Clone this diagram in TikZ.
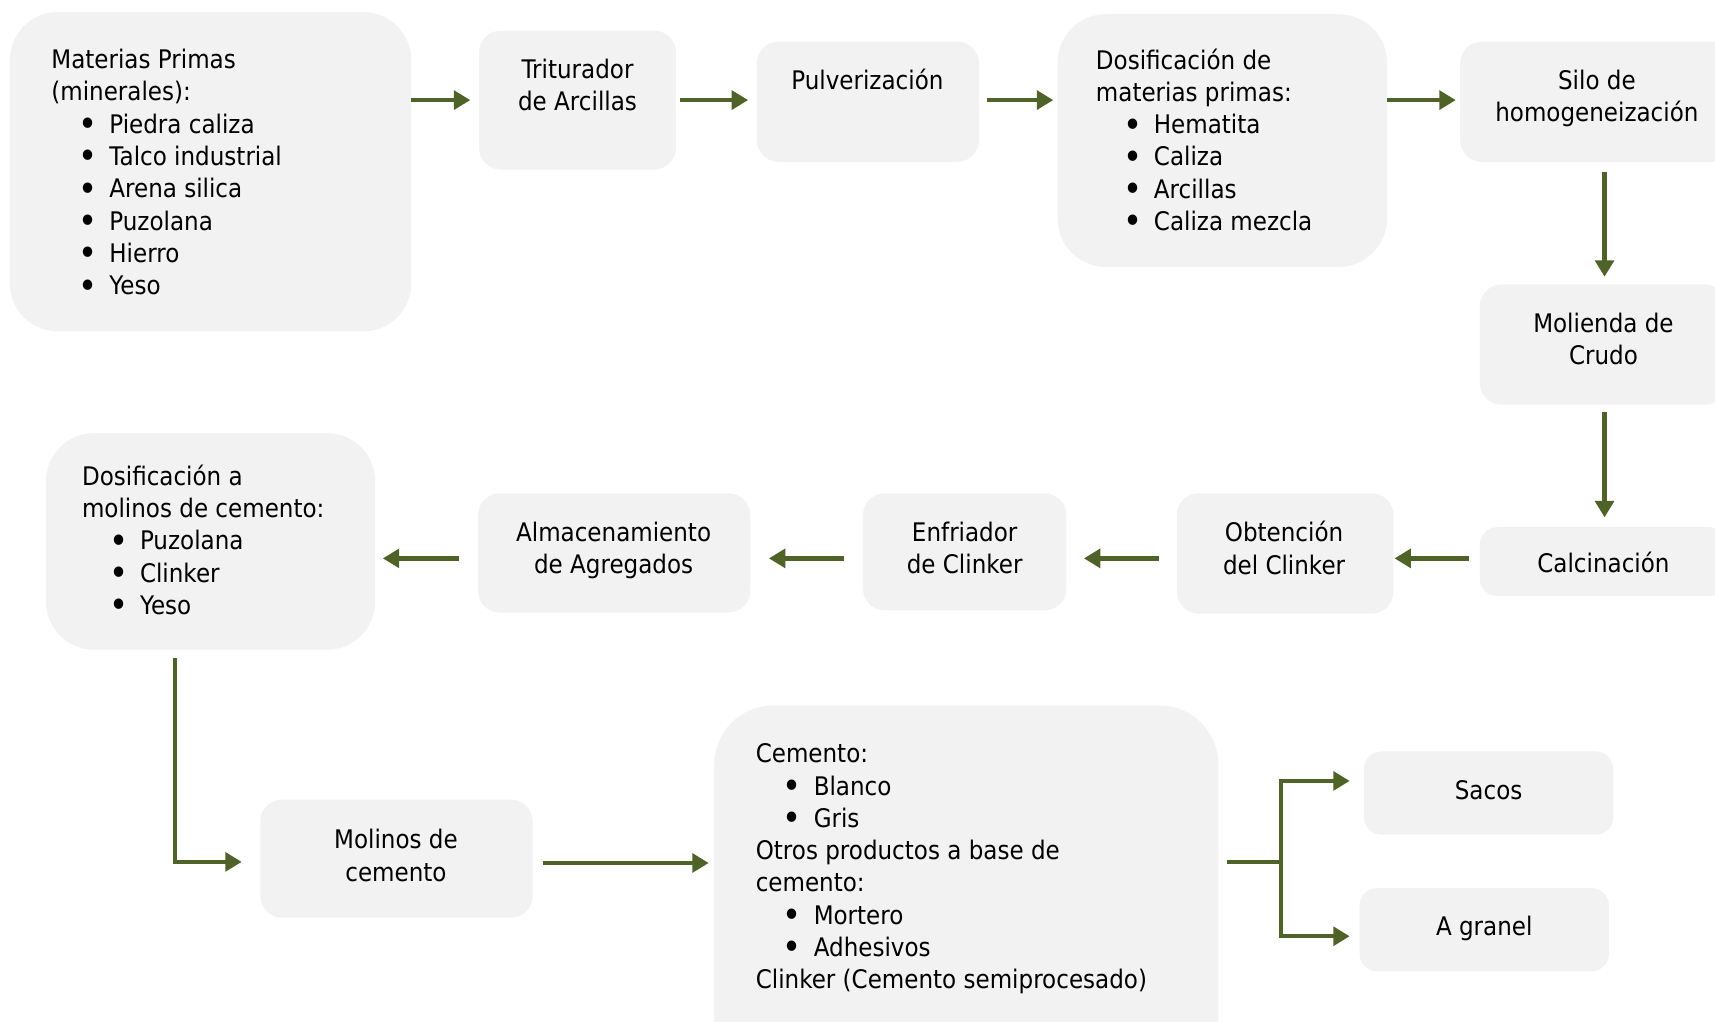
\documentclass[tikz,border=0pt]{standalone}
\usepackage{fontspec}
\usepackage{graphicx}
\setmainfont{DejaVu Sans}[FakeStretch=0.9]
\usetikzlibrary{arrows.meta,calc}
\definecolor{boxgray}{HTML}{F2F2F2}
\definecolor{arrgreen}{HTML}{4F6228}
\newcommand\bul[1]{\makebox[26.5pt][l]{\hspace*{12.4pt}\smash{\raisebox{-0.25ex}{\scalebox{1.4}{•}}}}#1}
\newcommand\bx[6]{\node[box, rounded corners=#6, minimum width={(#4-#2)*0.5pt}, minimum height={(#5-#3)*0.5pt}] (#1) at ({(#2+#4)/2},{(#3+#5)/2}) {};}
\tikzset{
  box/.style={draw=none, fill=boxgray, inner sep=0pt, outer sep=0pt, rectangle},
  txt/.style={inner sep=0pt, outer sep=0pt, font=\fontsize{11.7}{14.75}\selectfont, text=black},
  ltxt/.style={txt, align=left, anchor=north west},
  ctxt/.style={txt, align=center, anchor=center},
  arr/.style={draw=arrgreen, line width=2pt, -{Triangle[length=7.5pt, width=8.5pt]}},
  ln/.style={draw=arrgreen, line width=2pt}
}
\begin{document}
\begin{tikzpicture}[x=0.5pt, y=-0.5pt]
\clip (0,0) rectangle (1568,934);
\fill[white] (0,0) rectangle (1568,934);
% boxes
\bx{mp}{9}{11}{376}{303}{22pt}
\bx{tri}{438}{28}{618}{155}{10pt}
\bx{pul}{692}{38}{895}{148}{10pt}
\bx{dmp}{967}{13}{1268}{244}{22pt}
\bx{silo}{1335}{38}{1585}{148}{10pt}
\bx{mol}{1353}{260}{1579}{370}{10pt}
\bx{cal}{1353}{482}{1579}{545}{8pt}
\bx{obt}{1076}{451}{1274}{561}{10pt}
\bx{enf}{789}{451}{975}{558}{10pt}
\bx{alm}{437}{451}{686}{560}{10pt}
\bx{dmc}{42}{396}{343}{594}{22pt}
\bx{mcem}{238}{731}{487}{839}{10pt}
\bx{cem}{653}{645}{1114}{990}{27pt}
\bx{sac}{1247}{687}{1475}{763}{8pt}
\bx{gra}{1243}{812}{1471}{888}{8pt}
% texts
\node[ltxt] (mp-t) at (47,45) {Materias Primas\\(minerales):\\\bul{Piedra caliza}\\\bul{Talco industrial}\\\bul{Arena silica}\\\bul{Puzolana}\\\bul{Hierro}\\\bul{Yeso}};
\node[ctxt] (tri-t) at (528,78) {Triturador\\de Arcillas};
\node[ctxt] (pul-t) at (793,73) {Pulverización};
\node[ltxt] (dmp-t) at (1002,44.5) {Dosificación de\\materias primas:\\\bul{Hematita}\\\bul{Caliza}\\\bul{Arcillas}\\\bul{Caliza mezcla}};
\node[ctxt] (silo-t) at (1460,90) {Silo de\\homogeneización};
\node[ctxt] (mol-t) at (1466,310) {Molienda de\\Crudo};
\node[ctxt] (cal-t) at (1466,514) {Calcinación};
\node[ctxt] (obt-t) at (1174,501) {Obtención\\del Clinker};
\node[ctxt] (enf-t) at (882,501) {Enfriador\\de Clinker};
\node[ctxt] (alm-t) at (561,503) {Almacenamiento\\de Agregados};
\node[ltxt] (dmc-t) at (75,425) {Dosificación a\\molinos de cemento:\\\bul{Puzolana}\\\bul{Clinker}\\\bul{Yeso}};
\node[ctxt] (mcem-t) at (362,782) {Molinos de\\cemento};
\node[ltxt] (cem-t) at (691,680) {Cemento:\\\bul{Blanco}\\\bul{Gris}\\Otros productos a base de\\cemento:\\\bul{Mortero}\\\bul{Adhesivos}\\Clinker (Cemento semiprocesado)};
\node[ctxt] (sac-t) at (1361,722) {Sacos};
\node[ctxt] (gra-t) at (1357,849) {A granel};
% connectors
\draw[arr] (mp.east |- tri.west) -- ($(tri.west)+(-8,0)$);
\draw[arr] ($(tri.east)+(4,0)$) -- ($(pul.west |- tri.east)+(-8,0)$);
\draw[arr] ($(pul.east |- tri.east)+(7,0)$) -- ($(dmp.west |- tri.east)+(-4,0)$);
\draw[arr] (dmp.east |- tri.east) -- ($(silo.west |- tri.east)+(-4,0)$);
\draw[arr] ($(mol.north)+(1,-103)$) -- ($(mol.north)+(1,-7)$);
\draw[arr] ($(mol.south)+(1,7)$) -- ($(cal.north)+(1,-9)$);
\draw[arr] ($(cal.west)+(-10,-3)$) -- ($(obt.east |- cal.west)+(1,-3)$);
\draw[arr] ($(obt.west |- cal.west)+(-16,-3)$) -- ($(enf.east |- cal.west)+(16,-3)$);
\draw[arr] ($(enf.west |- cal.west)+(-17,-3)$) -- ($(alm.east |- cal.west)+(17,-3)$);
\draw[arr] ($(alm.west |- cal.west)+(-17,-3)$) -- ($(dmc.east |- cal.west)+(7,-3)$);
\coordinate (elb) at ($(dmc.south)+(-32.5,8)$);
\draw[arr] (elb) |- ($(mcem.west)+(-17,3)$);
\draw[arr] ($(mcem.east)+(9,4)$) -- ($(cem.west |- mcem.east)+(-5,4)$);
\coordinate (fk) at (1171,788);
\draw[ln] ($(cem.east |- fk)+(8,0)$) -- (fk);
\draw[arr] (fk) |- ($(sac.west)+(-13,-11)$);
\draw[arr] (fk) |- ($(gra.west)+(-9,6)$);
\end{tikzpicture}
\end{document}
